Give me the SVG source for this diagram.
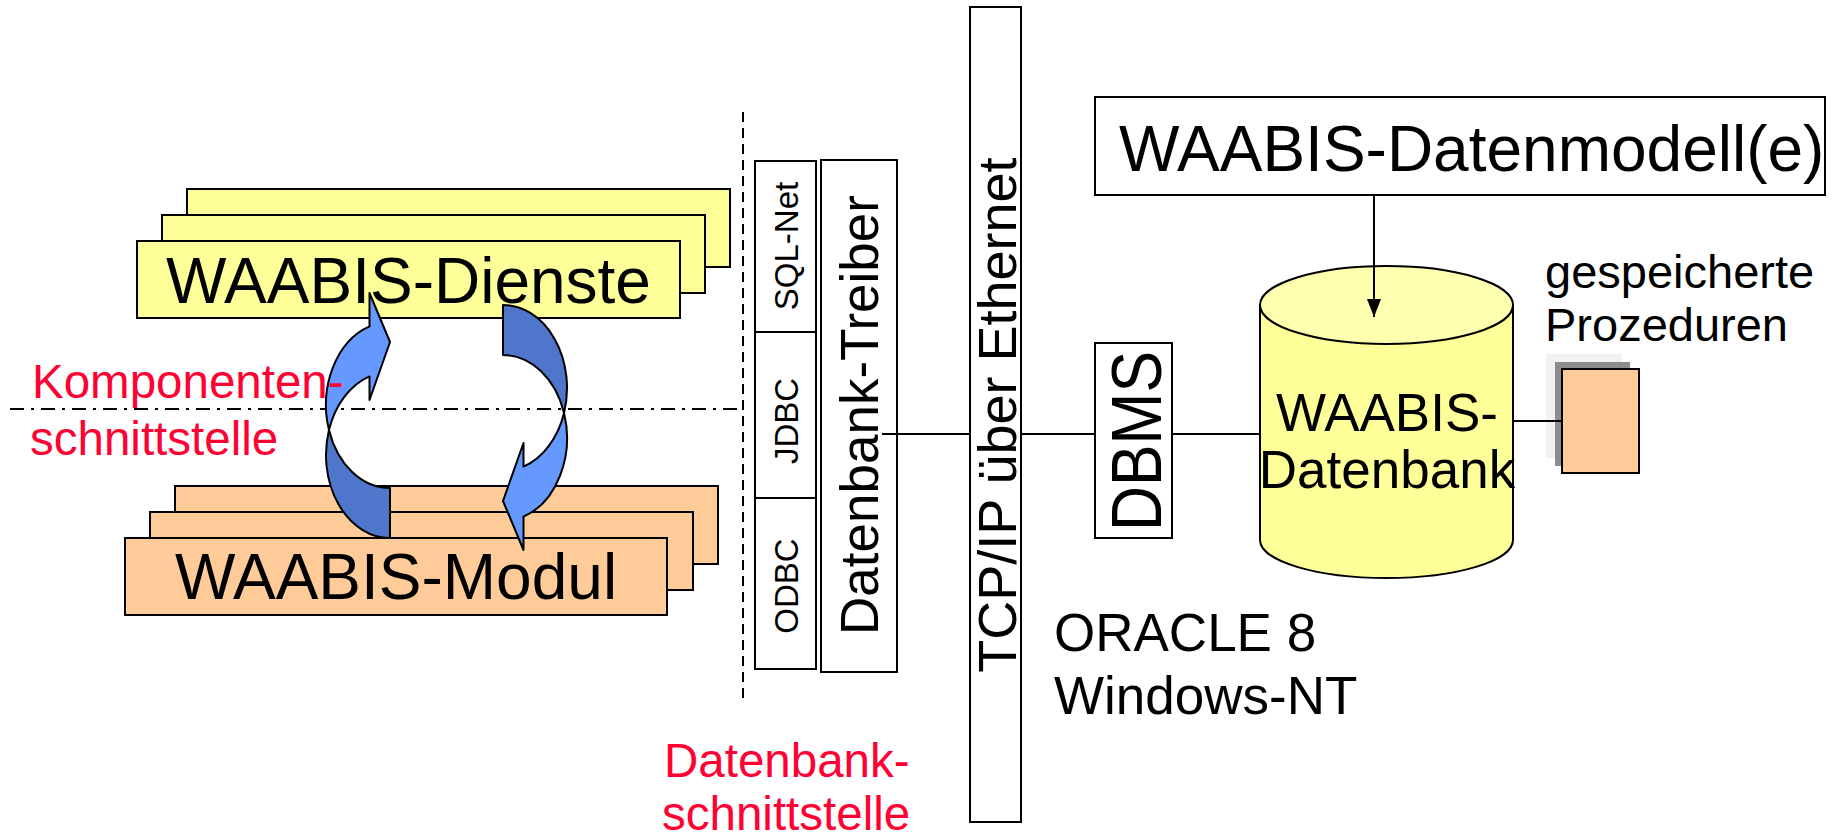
<svg xmlns="http://www.w3.org/2000/svg" width="1843" height="837" viewBox="0 0 1843 837">
<style>
.box{stroke:#000;stroke-width:2}
.y{fill:#FFFF99}
.o{fill:#FFCC99}
.w{fill:#FFFFFF}
.t{font-family:"Liberation Sans",Arial,sans-serif;fill:#000}
.red{font-family:"Liberation Sans",Arial,sans-serif;fill:#FF0033;font-size:47.5px}
.ln{stroke:#000;stroke-width:2;fill:none}
.lt{fill:#6699FF;stroke:#000;stroke-width:2;stroke-linejoin:round}
.dk{fill:#4F76CB;stroke:#000;stroke-width:2;stroke-linejoin:round}
</style>
<defs>
<marker id="ah" markerUnits="userSpaceOnUse" markerWidth="18" markerHeight="14" refX="18" refY="7" orient="auto" viewBox="0 0 18 14">
<path d="M0,0 L18,7 L0,14 Z" fill="#000"/>
</marker>
<g id="carrow">
<path class="dk" d="M328.97,430 A64,83 0 0,0 390,538 L390,488 A64,83 0 0,1 328.97,430 Z"/>
<path class="lt" d="M369.5,326.4 L369.5,293 L390,342 L369.5,400 L369.5,376.4 A64,83 0 0,0 328.97,430 A64,83 0 0,1 369.5,326.4 Z"/>
</g>
</defs>
<rect width="1843" height="837" fill="#FFFFFF"/>

<g id="dienste">
<rect class="box y" x="187" y="189" width="543" height="78"/>
<rect class="box y" x="162" y="215" width="543" height="78"/>
<rect class="box y" x="137" y="241" width="543" height="77"/>
<text class="t" x="408.5" y="303" font-size="64" text-anchor="middle">WAABIS-Dienste</text>
</g>

<g id="modul">
<rect class="box o" x="175" y="486" width="543" height="78"/>
<rect class="box o" x="150" y="512" width="543" height="78"/>
<rect class="box o" x="125" y="538" width="542" height="77"/>
<text class="t" x="396" y="599" font-size="64" text-anchor="middle">WAABIS-Modul</text>
</g>

<g id="komponenten-schnittstelle">
<line x1="10" y1="409" x2="737" y2="409" stroke="#000" stroke-width="2" stroke-dasharray="14 7 3 7"/>
</g>

<g id="zyklus">
<use href="#carrow"/>
<use href="#carrow" transform="rotate(180 446.5 421.5)"/>
</g>

<g id="komponenten-label">
<text class="red" x="32" y="398">Komponenten-</text>
<text class="red" x="30" y="455">schnittstelle</text>
</g>

<g id="datenbank-schnittstelle">
<line x1="743" y1="112" x2="743" y2="702" stroke="#000" stroke-width="2" stroke-dasharray="10 6"/>
<text class="red" x="664" y="777">Datenbank-</text>
<text class="red" x="662" y="830">schnittstelle</text>
</g>

<g id="sqlnet">
<rect class="box w" x="755" y="161" width="61" height="171"/>
<text class="t" font-size="33" text-anchor="middle" transform="translate(798 246) rotate(-90)">SQL-Net</text>
</g>
<g id="jdbc">
<rect class="box w" x="755" y="332" width="61" height="166"/>
<text class="t" font-size="33" text-anchor="middle" transform="translate(798 421) rotate(-90)">JDBC</text>
</g>
<g id="odbc">
<rect class="box w" x="755" y="498" width="61" height="171"/>
<text class="t" font-size="33" text-anchor="middle" transform="translate(798 586) rotate(-90)">ODBC</text>
</g>

<g id="treiber">
<rect class="box w" x="821" y="160" width="76" height="512"/>
<text class="t" font-size="53" text-anchor="middle" transform="translate(878 415) rotate(-90)">Datenbank-Treiber</text>
</g>

<g id="tcpip">
<rect class="box w" x="970" y="7" width="51" height="815"/>
<text class="t" font-size="54" text-anchor="middle" transform="translate(1016 415) rotate(-90)">TCP/IP über Ethernet</text>
</g>

<g id="dbms">
<rect class="box w" x="1095" y="343" width="77" height="195"/>
<text class="t" font-size="70" text-anchor="middle" textLength="180" lengthAdjust="spacingAndGlyphs" transform="translate(1161 441) rotate(-90)">DBMS</text>
</g>

<g id="oracle">
<text class="t" x="1054" y="651" font-size="53">ORACLE 8</text>
<text class="t" x="1054" y="714" font-size="53">Windows-NT</text>
</g>

<g id="datenmodell">
<rect class="box w" x="1095" y="97" width="730" height="98"/>
<text class="t" x="1119" y="171" font-size="64">WAABIS-Datenmodell(e)</text>
</g>

<g id="datenbank">
<path class="box y" d="M1260,305 L1260,540 A126.5,38 0 0,0 1513,540 L1513,305 Z"/>
<ellipse class="box" cx="1386.5" cy="305" rx="126.5" ry="39" fill="#FFFFB0"/>
<text class="t" x="1387" y="431" font-size="53" text-anchor="middle">WAABIS-</text>
<text class="t" x="1387" y="488" font-size="53" text-anchor="middle">Datenbank</text>
</g>

<g id="prozeduren">
<rect x="1546" y="354" width="76" height="104" fill="#F2F2F2"/>
<rect x="1555" y="362" width="75" height="104" fill="#8C8C8C"/>
<rect class="box o" x="1562" y="369" width="77" height="104"/>
<text class="t" x="1545" y="288" font-size="47">gespeicherte</text>
<text class="t" x="1545" y="341" font-size="47">Prozeduren</text>
</g>

<g id="connectors">
<line class="ln" x1="882" y1="434" x2="970" y2="434"/>
<line class="ln" x1="1021" y1="434" x2="1095" y2="434"/>
<line class="ln" x1="1172" y1="434" x2="1260" y2="434"/>
<line class="ln" x1="1513" y1="421" x2="1562" y2="421"/>
<line class="ln" x1="1374" y1="195" x2="1374" y2="317" marker-end="url(#ah)"/>
</g>
</svg>
